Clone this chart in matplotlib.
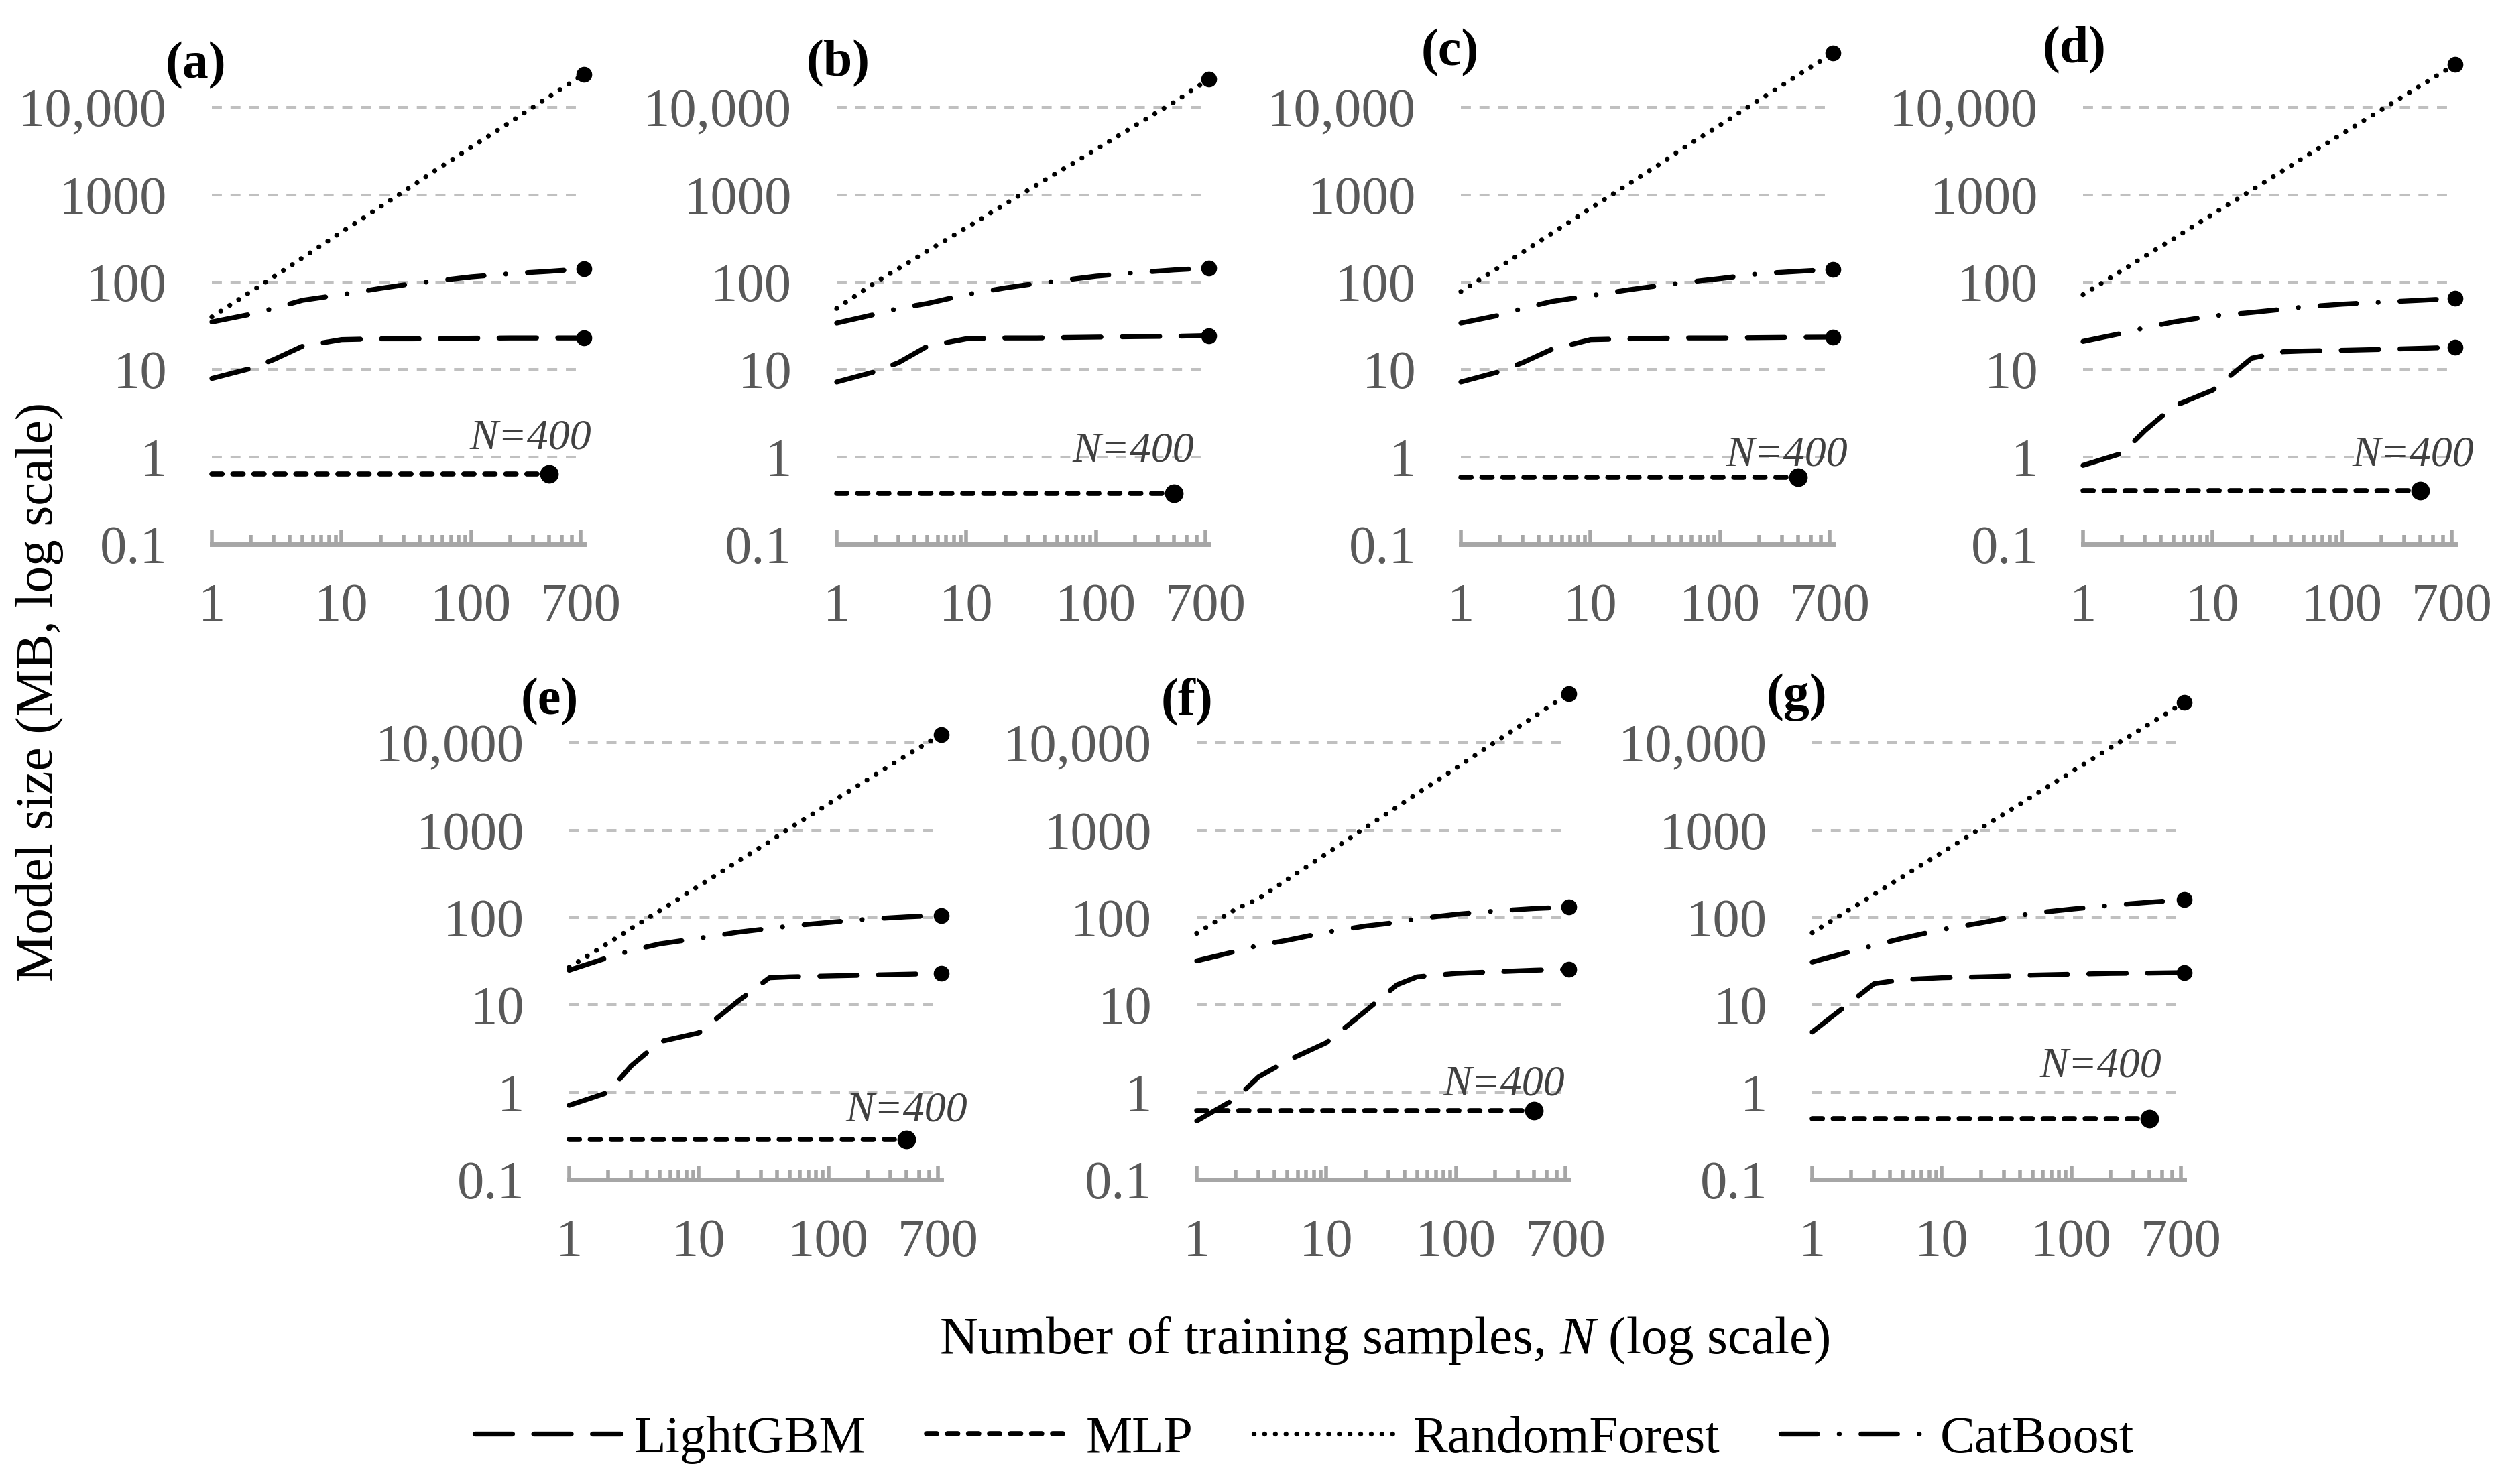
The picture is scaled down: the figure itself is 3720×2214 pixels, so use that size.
import matplotlib
matplotlib.use("Agg")
import matplotlib.pyplot as plt
from matplotlib.lines import Line2D
from matplotlib.ticker import FixedLocator, FixedFormatter, NullFormatter
import matplotlib.transforms as mtransforms

plt.rcParams['font.family'] = ['Liberation Serif', 'DejaVu Serif']
plt.rcParams['mathtext.fontset'] = 'custom'
plt.rcParams['mathtext.rm'] = 'Liberation Serif'
plt.rcParams['mathtext.it'] = 'Liberation Serif:italic'

# training sample counts (x) shared by the curves
n_samples = [1, 2, 3, 5, 10, 20, 35, 50, 100, 200, 400, 740]
n_mlp = [1, 400]

panels = ['(a)', '(b)', '(c)', '(d)', '(e)', '(f)', '(g)']

lightgbm = [
    [7.9, 10.3, 13, 18.5, 22, 22.5, 22.5, 22.6, 22.8, 23, 23, 23],
    [7.2, 9.5, 12, 18.5, 22.5, 23, 23, 23.2, 23.5, 23.8, 24, 24.5],
    [7.2, 9.5, 12, 17, 22, 22.5, 22.8, 23, 23, 23.2, 23.4, 23.5],
    [0.8, 1.1, 2.0, 3.8, 5.8, 13.5, 16, 16.3, 16.6, 17, 17.5, 18],
    [0.71, 1.0, 2.0, 3.8, 4.8, 11, 20.5, 21, 21.5, 22, 22.5, 23],
    [0.47, 0.85, 1.5, 2.3, 3.7, 8.5, 17, 21, 23, 24, 25, 25.7],
    [4.9, 10.9, 17.5, 19.5, 20.5, 21, 21.5, 22, 22.5, 23, 23.2, 23.5],
]

mlp = [0.64, 0.38, 0.59, 0.41, 0.29, 0.62, 0.50]

randomforest = [
    [40, 78, 115, 190, 375, 730, 1260, 1800, 3500, 6800, 13300, 24000],
    [50, 100, 143, 227, 420, 785, 1300, 1790, 3300, 6200, 11500, 21000],
    [78, 150, 220, 360, 700, 1350, 2300, 3300, 6300, 12200, 23500, 42000],
    [72, 136, 198, 315, 600, 1130, 1900, 2650, 5000, 9400, 17700, 31000],
    [27, 51, 75, 120, 230, 440, 740, 1050, 2000, 3800, 7200, 12500],
    [66, 125, 165, 273, 537, 1070, 1840, 2620, 5150, 10200, 20000, 36500],
    [67, 127, 184, 295, 555, 1050, 1760, 2450, 4650, 8800, 16500, 29000],
]

catboost = [
    [35, 43, 50, 62, 72, 85, 96, 102, 115, 125, 133, 142],
    [34, 43, 50, 57, 72, 86, 97, 103, 117, 128, 138, 145],
    [34, 42, 50, 60, 70, 82, 92, 98, 110, 125, 133, 140],
    [21, 26, 30, 35, 41, 45, 49, 52, 56, 59, 62, 65],
    [25, 35, 42, 50, 58, 68, 75, 80, 88, 96, 102, 106],
    [32, 41, 48, 55, 68, 80, 88, 97, 109, 119, 127, 132],
    [31, 41, 48, 58, 73, 87, 102, 112, 125, 138, 150, 160],
]

y_ticks = [0.1, 1, 10, 100, 1000, 10000]
y_ticklabels = ['0.1', '1', '10', '100', '1000', '10,000']
x_ticks = [1, 10, 100, 700]
x_ticklabels = ['1', '10', '100', '700']
x_minor = [2, 3, 4, 5, 6, 7, 8, 9, 20, 30, 40, 50, 60, 70, 80, 90,
           200, 300, 400, 500, 600]

# layout (figure fractions)
W, H = 3720, 2214
top_lefts = [316, 1248, 2179, 3107]
bot_lefts = [849, 1785, 2703]
ax_w = 555 / W
ax_h = 743 / H
top_bottom = 1 - 812 / H
bot_bottom = 1 - 1760 / H

label_pos = [(-0.043, 0.962), (0.004, 0.966), (-0.029, 0.987), (-0.023, 0.993),
             (-0.052, 0.96), (-0.027, 0.96), (-0.041, 0.969)]
n400_pos = [(1.02, 1.24), (0.96, 0.88), (1.04, 0.79), (1.05, 0.80),
            (1.07, 0.47), (0.99, 0.93), (0.94, 1.5)]

styles = {
    'LightGBM': dict(dashes=(7.6, 4.3), lw=5.3, ms=16),
    'MLP': dict(dashes=(2.0, 2.1), lw=5.5, ms=19),
    'RandomForest': dict(dashes=(0.01, 2.15), lw=5.3, ms=16),
    'CatBoost': dict(dashes=(7.4, 4.4, 0.01, 4.4), lw=5.3, ms=16),
}

gray_txt = '#595959'
axis_gray = '#A6A6A6'
fig = plt.figure(figsize=(W / 100, H / 100), dpi=100)

rects = [(l / W, top_bottom) for l in top_lefts] + [(l / W, bot_bottom) for l in bot_lefts]

for i, (x0, y0) in enumerate(rects):
    ax = fig.add_axes([x0, y0, ax_w, ax_h])
    ax.set_xscale('log')
    ax.set_yscale('log')
    ax.set_xlim(1, 740)
    ax.set_ylim(0.1, 10 ** 4.7)

    series = [('LightGBM', n_samples, lightgbm[i]),
              ('RandomForest', n_samples, randomforest[i]),
              ('CatBoost', n_samples, catboost[i]),
              ('MLP', n_mlp, [mlp[i], mlp[i]])]
    for name, xs, ys in series:
        st = styles[name]
        ax.plot(xs, ys, color='black', lw=st['lw'], dashes=st['dashes'],
                dash_capstyle='round', solid_capstyle='round', clip_on=False, zorder=3)
        ax.plot(xs[-1], ys[-1], 'o', color='black', markersize=st['ms'],
                clip_on=False, zorder=4)

    for s in ['top', 'right', 'left']:
        ax.spines[s].set_visible(False)
    ax.spines['bottom'].set_color(axis_gray)
    ax.spines['bottom'].set_linewidth(5)
    ax.spines['bottom'].set_capstyle('projecting')

    ax.yaxis.set_major_locator(FixedLocator(y_ticks))
    ax.yaxis.set_major_formatter(FixedFormatter(y_ticklabels))
    ax.yaxis.set_minor_locator(FixedLocator([]))
    ax.tick_params(axis='y', which='both', length=0, pad=48, labelsize=58, labelcolor=gray_txt)
    ax.yaxis.grid(True, which='major', color='#C0C0C0', lw=2.9, dashes=(3.7, 3.2))

    ax.xaxis.set_major_locator(FixedLocator(x_ticks))
    ax.xaxis.set_major_formatter(FixedFormatter(x_ticklabels))
    ax.xaxis.set_minor_locator(FixedLocator(x_minor))
    ax.xaxis.set_minor_formatter(NullFormatter())
    ax.tick_params(axis='x', which='major', direction='in', length=15, width=4,
                   color=axis_gray, pad=42, labelsize=58, labelcolor=gray_txt)
    ax.tick_params(axis='x', which='minor', direction='in', length=10, width=4,
                   color=axis_gray)
    ax.set_axisbelow(True)

    lx, ly = label_pos[i]
    ax.text(lx, ly, panels[i], transform=ax.transAxes, ha='center', va='center',
            fontsize=56, fontweight='bold', color='black')

    tx, ty = n400_pos[i]
    trans = mtransforms.blended_transform_factory(ax.transAxes, ax.transData)
    ax.text(tx, ty, 'N=400', transform=trans, ha='right', va='baseline',
            fontsize=46, style='italic', color='#404040', zorder=5)

fig.text(0.016, 0.534, 'Model size (MB, log scale)', rotation=90, ha='center',
         va='center', fontsize=57)
fig.text(0.555, 0.0967, 'Number of training samples, $N$ (log scale)', ha='center',
         va='center', fontsize=57)

names = ['LightGBM', 'MLP', 'RandomForest', 'CatBoost']
handles = [Line2D([], [], color='black', lw=styles[k]['lw'], dashes=styles[k]['dashes'],
                  dash_capstyle='round') for k in names]
fig.legend(handles, names, loc='center', bbox_to_anchor=(0.523, 0.030), ncol=4,
           frameon=False, fontsize=56, handlelength=2.8, handletextpad=0.25,
           columnspacing=1.17)

fig.savefig('out.png', dpi=100)
